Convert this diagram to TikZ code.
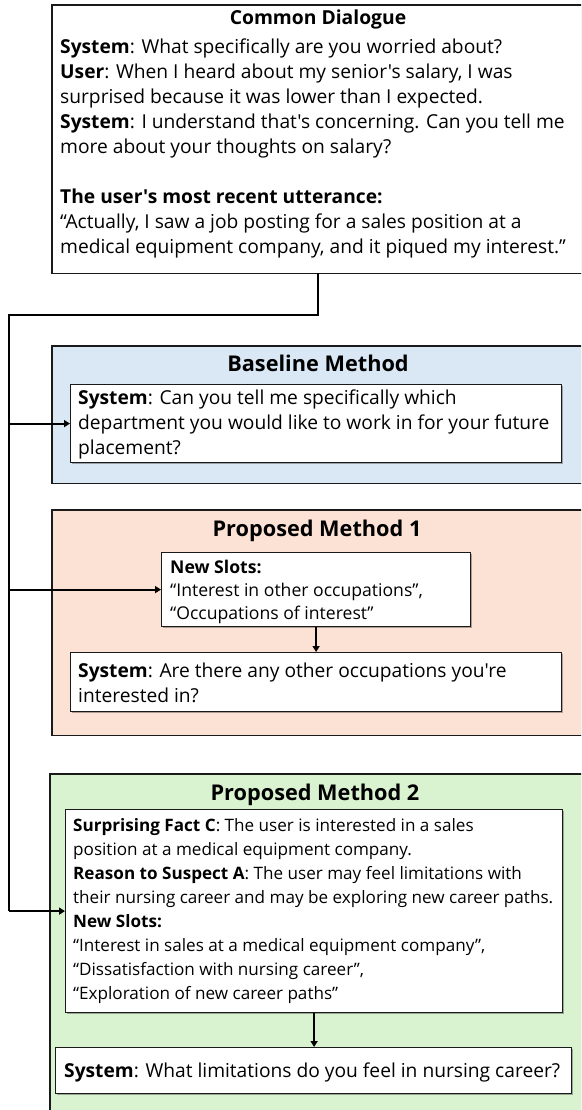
\documentclass[tikz,border=0pt]{standalone}
\usepackage{fontspec}
\setmainfont{Open Sans}[Ligatures=TeXOff]
\usetikzlibrary{shadows,arrows.meta}
\definecolor{bluefill}{HTML}{DAE8F6}
\definecolor{peachfill}{HTML}{FBE2D5}
\definecolor{greenfill}{HTML}{D9F2D0}
\definecolor{edge}{HTML}{1A1A1A}
\begin{document}
\begin{tikzpicture}[x=1pt,y=-1pt,
  panel/.style={rectangle, draw=none, inner sep=0pt, anchor=north west,
    drop shadow={shadow xshift=1.2pt, shadow yshift=-1.2pt, opacity=0.3, fill=black}},
  paneledge/.style={draw=edge, line width=1.2pt},
  card/.style={rectangle, draw=edge, line width=1.2pt, fill=white, inner sep=0pt, anchor=north west,
    drop shadow={shadow xshift=1.2pt, shadow yshift=-1.2pt, opacity=0.3, fill=black}},
  txt/.style={anchor=base west, align=left, inner sep=0pt},
  bodyfont/.style={font=\fontsize{19.2}{25}\selectfont},
  smallfont/.style={font=\fontsize{17.6}{23}\selectfont},
  midfont/.style={font=\fontsize{17.1}{24}\selectfont},
  ttl/.style={anchor=base, inner sep=0pt, font=\fontsize{21.7}{26}\selectfont\bfseries},
  trunk/.style={draw=black, line width=2.8pt},
  branch/.style={draw=black, line width=2pt, -{Triangle[length=6pt,width=7pt]}},
]
\useasboundingbox (0,0) rectangle (581,1110);
\clip (0,0) rectangle (581,1110);
\fill[white] (0,0) rectangle (581,1110);

% Common dialogue
\node[panel, fill=white, minimum width=560pt, minimum height=268pt] (common) at (52,5) {};
\draw[paneledge] (common.north east) -| (common.south west) -- (common.south east);
\node[ttl, font=\fontsize{19.3}{24}\selectfont\bfseries] (cdtitle) at (318,25) {Common Dialogue};
\node[txt, bodyfont] (cdtext) at (60,253) {\textbf{System}: What specifically are you worried about?\\
\textbf{User}: When I heard about my senior's salary, I was\\
surprised because it was lower than I expected.\\
\textbf{System}: I understand that's concerning. Can you tell me\\
more about your thoughts on salary?\\[25pt]
\textbf{The user's most recent utterance:}\\
“Actually, I saw a job posting for a sales position at a\\
medical equipment company, and it piqued my interest.”};

% Baseline
\node[panel, fill=bluefill, minimum width=560pt, minimum height=137pt] (basepanel) at (52,346) {};
\draw[paneledge] (basepanel.north east) -| (basepanel.south west) -- (basepanel.south east);
\node[ttl] (basetitle) at (318,371) {Baseline Method};
\node[card, minimum width=491pt, minimum height=78pt] (basesys) at (70,384) {};
\node[txt, bodyfont] (basetext) at (78,454) {\textbf{System}: Can you tell me specifically which\\
department you would like to work in for your future\\
placement?};

% Proposed 1
\node[panel, fill=peachfill, minimum width=560pt, minimum height=225pt] (p1panel) at (52,510) {};
\draw[paneledge] (p1panel.north east) -| (p1panel.south west) -- (p1panel.south east);
\node[ttl] (p1title) at (317,536) {Proposed Method 1};
\node[card, minimum width=309pt, minimum height=74pt] (p1slot) at (161,552) {};
\node[txt, smallfont] (p1slottext) at (170,619) {\textbf{New Slots:}\\
“Interest in other occupations”,\\
“Occupations of interest”};
\node[card, minimum width=491pt, minimum height=59pt] (p1sys) at (70,652) {};
\node[txt, bodyfont] (p1systext) at (78,702) {\textbf{System}: Are there any other occupations you're\\
interested in?};

% Proposed 2
\node[panel, fill=greenfill, minimum width=560pt, minimum height=350pt] (p2panel) at (50,774) {};
\draw[paneledge] (p2panel.north east) -| (p2panel.south west);
\node[ttl] (p2title) at (315,800) {Proposed Method 2};
\node[card, minimum width=497pt, minimum height=203pt] (p2slot) at (65,809) {};
\node[txt, midfont] (p2slottext) at (73,999) {\textbf{Surprising Fact C}: The user is interested in a sales\\
position at a medical equipment company.\\
\textbf{Reason to Suspect A}: The user may feel limitations with\\
their nursing career and may be exploring new career paths.\\
\textbf{New Slots:}\\
“Interest in sales at a medical equipment company”,\\
“Dissatisfaction with nursing career”,\\
“Exploration of new career paths”};
\node[card, minimum width=516pt, minimum height=46pt] (p2sys) at (55,1047) {};
\node[txt, bodyfont] (p2systext) at (64,1077) {\textbf{System}: What limitations do you feel in nursing career?};

% Connectors
\coordinate (turn) at (9,315);
\draw[trunk] (cdtitle |- common.south) |- (turn) -- (turn |- p2slot.west);
\draw[branch] (turn |- p2slot.west) -- (p2slot.west);
\draw[branch] (turn |- basesys.west) -- (basesys.west);
\draw[branch] (turn |- p1slot.west) -- (p1slot.west);
\draw[branch] (p1slot.south) -- (p1slot.south |- p1sys.north);
\draw[branch] (p2slot.south) -- (p2slot.south |- p2sys.north);
\end{tikzpicture}
\end{document}
